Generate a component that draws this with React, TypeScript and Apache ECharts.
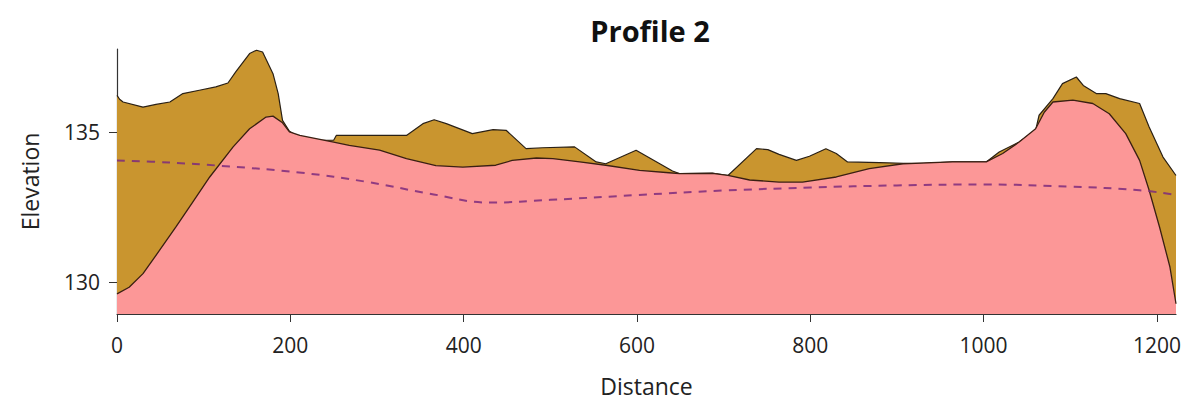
import React, { useEffect, useRef } from "react";
import * as echarts from "echarts";

const chartTitle = "Profile 2";
const xName = "Distance";
const yName = "Elevation";
const xTicks = [0, 200, 400, 600, 800, 1000, 1200];
const yTicks = [130, 135];

const groundDistance = [0, 3, 7, 30, 45, 61, 76, 95, 114, 128, 137, 153, 161, 168, 180, 186, 191, 199, 207, 233, 250, 253, 288, 334, 353, 366, 380, 410, 434, 449, 472, 491, 528, 553, 564, 599, 641, 649, 687, 705, 738, 751, 764, 784, 799, 818, 830, 843, 880, 926, 964, 1003, 1018, 1041, 1060, 1064, 1080, 1091, 1107, 1115, 1130, 1141, 1157, 1180, 1191, 1207, 1222];
const groundElevation = [136.21, 136.08, 135.99, 135.82, 135.91, 135.99, 136.27, 136.38, 136.49, 136.62, 136.99, 137.6, 137.71, 137.65, 136.93, 136.27, 135.38, 135.02, 134.88, 134.72, 134.72, 134.88, 134.88, 134.88, 135.27, 135.4, 135.27, 134.94, 135.07, 135.05, 134.44, 134.47, 134.5, 134.0, 133.94, 134.39, 133.7, 133.61, 133.63, 133.55, 134.44, 134.41, 134.25, 134.05, 134.19, 134.44, 134.28, 134.0, 133.98, 133.94, 134.0, 134.0, 134.33, 134.66, 135.05, 135.55, 136.1, 136.6, 136.82, 136.54, 136.27, 136.27, 136.1, 135.94, 135.16, 134.16, 133.55];

const surfaceDistance = [0, 14, 30, 49, 68, 87, 107, 134, 153, 172, 180, 191, 199, 211, 250, 268, 303, 334, 368, 399, 437, 456, 484, 503, 534, 564, 603, 637, 649, 687, 705, 730, 764, 791, 830, 868, 907, 964, 1003, 1022, 1041, 1060, 1070, 1080, 1103, 1126, 1145, 1164, 1180, 1191, 1203, 1215, 1222];
const surfaceElevation = [129.62, 129.84, 130.29, 131.06, 131.84, 132.65, 133.5, 134.5, 135.1, 135.49, 135.52, 135.3, 135.0, 134.88, 134.66, 134.55, 134.39, 134.11, 133.88, 133.83, 133.89, 134.05, 134.13, 134.11, 134.0, 133.89, 133.72, 133.64, 133.61, 133.62, 133.55, 133.4, 133.33, 133.33, 133.5, 133.78, 133.94, 134.0, 134.0, 134.28, 134.66, 135.1, 135.65, 135.99, 136.05, 135.94, 135.6, 134.94, 134.05, 133.06, 131.84, 130.51, 129.29];

const trendDistance = [0, 60, 120, 210, 290, 360, 430, 500, 600, 700, 800, 900, 1000, 1100, 1180, 1222];
const trendElevation = [134.05, 133.98, 133.87, 133.65, 133.33, 132.95, 132.65, 132.74, 132.9, 133.05, 133.15, 133.22, 133.25, 133.18, 133.06, 132.9];

const pairs = (xs: number[], ys: number[]) => xs.map((x, i) => [x, ys[i]]);

const FONT = "'Open Sans', 'Noto Sans', sans-serif";

export default function App() {
  const ref = useRef<HTMLDivElement>(null);
  useEffect(() => {
    document.body.style.margin = "0";
    const chart = echarts.init(ref.current!, null, { renderer: "svg" });
    chart.setOption({
      animation: false,
      backgroundColor: "#ffffff",
      title: {
        text: chartTitle,
        left: 645,
        top: 11,
        textAlign: "center",
        textStyle: { fontFamily: FONT, fontSize: 29, fontWeight: "bold", color: "#111" },
      },
      grid: { left: 117, right: 9, top: 49, bottom: 95, containLabel: false },
      xAxis: {
        type: "value",
        min: 0,
        max: 1222,
        name: xName,
        nameLocation: "middle",
        nameGap: 60,
        nameTextStyle: { fontFamily: FONT, fontSize: 23, color: "#222" },
        axisLine: { show: true, onZero: false, lineStyle: { color: "#333", width: 1.2 } },
        axisTick: { show: true, length: 8, customValues: xTicks, lineStyle: { color: "#333" } },
        axisLabel: {
          customValues: xTicks,
          margin: 20,
          fontFamily: FONT,
          fontSize: 21,
          color: "#222",
          formatter: (v: number) => String(v),
        },
        splitLine: { show: false },
      },
      yAxis: {
        type: "value",
        min: 128.95,
        max: 137.75,
        name: yName,
        nameLocation: "middle",
        nameGap: 76,
        nameTextStyle: { fontFamily: FONT, fontSize: 23, color: "#222" },
        axisLine: { show: true, onZero: false, lineStyle: { color: "#333", width: 1.2 } },
        axisTick: { show: true, length: 8, customValues: yTicks, lineStyle: { color: "#333" } },
        axisLabel: {
          customValues: yTicks,
          margin: 17,
          fontFamily: FONT,
          fontSize: 21,
          color: "#222",
          formatter: (v: number) => String(v),
        },
        splitLine: { show: false },
      },
      series: [
        {
          type: "line",
          data: pairs(groundDistance, groundElevation),
          showSymbol: false,
          lineStyle: { color: "#2a2015", width: 1.2 },
          areaStyle: { color: "#c9952f", opacity: 1, origin: "start" },
          z: 1,
        },
        {
          type: "line",
          data: pairs(surfaceDistance, surfaceElevation),
          showSymbol: false,
          lineStyle: { color: "#3a1f12", width: 1.3 },
          areaStyle: { color: "#fc9797", opacity: 1, origin: "start" },
          z: 2,
        },
        {
          type: "line",
          data: pairs(trendDistance, trendElevation),
          showSymbol: false,
          smooth: 0.4,
          lineStyle: { color: "#7d2a7d", width: 2, type: [8, 7], opacity: 0.85 },
          z: 3,
        },
      ],
    });
    return () => chart.dispose();
  }, []);
  return <div ref={ref} style={{ width: 1185, height: 409 }} />;
}
